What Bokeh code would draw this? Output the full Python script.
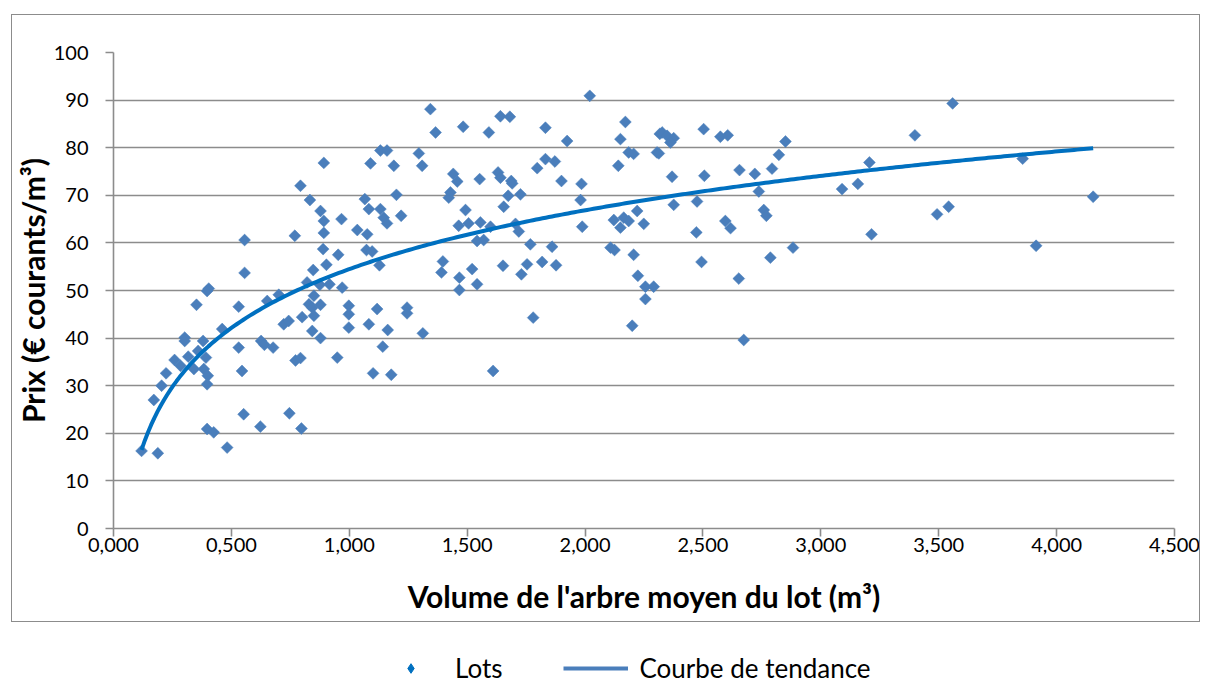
import numpy as np
from bokeh.plotting import figure
from bokeh.layouts import column
from bokeh.models import (ColumnDataSource, Range1d, FixedTicker, CustomJSTickFormatter,
                          Legend, LegendItem, InlineStyleSheet)
from bokeh.embed import file_html
from bokeh.resources import INLINE

# ---- data ----
lot_volume = [
    0.119, 0.188, 0.171, 0.204, 0.223, 0.259, 0.284, 0.302, 0.302, 0.317, 0.341, 0.359, 0.380, 0.392,
    0.383, 0.400, 0.397, 0.352, 0.397, 0.404, 0.556, 0.556, 0.531, 0.461, 0.531, 0.545, 0.552, 0.397,
    0.425, 0.482, 0.623, 0.746, 0.626, 0.640, 0.677, 0.652, 0.701, 0.722, 0.743, 0.772, 0.793, 0.797,
    0.800, 0.892, 0.793, 0.833, 0.769, 0.878, 0.892, 0.892, 0.967, 0.889, 0.953, 0.903, 0.847, 0.821,
    0.875, 0.916, 0.970, 0.850, 0.829, 0.878, 0.843, 0.850, 0.998, 0.998, 1.118, 1.245, 1.245, 1.083,
    0.998, 0.843, 0.878, 1.163, 1.312, 1.142, 0.949, 1.101, 1.178, 1.132, 1.160, 1.090, 1.189, 1.295,
    1.309, 1.366, 1.344, 1.200, 1.066, 1.083, 1.132, 1.146, 1.160, 1.220, 1.034, 1.076, 1.073, 1.097,
    1.128, 1.397, 1.391, 1.441, 1.458, 1.429, 1.422, 1.493, 1.464, 1.506, 1.542, 1.467, 1.467, 1.521,
    1.542, 1.553, 2.020, 1.641, 1.681, 1.483, 1.592, 1.832, 1.924, 2.171, 2.150, 2.185, 2.206, 2.305,
    2.317, 2.141, 1.797, 1.832, 1.872, 1.631, 1.641, 1.687, 1.691, 1.900, 1.985, 1.981, 1.726, 1.674,
    1.655, 1.556, 1.599, 1.705, 1.719, 1.570, 1.988, 2.122, 2.164, 2.185, 2.150, 2.221, 2.249, 1.768,
    1.860, 2.108, 2.125, 2.206, 1.652, 1.754, 1.818, 1.877, 1.730, 2.224, 1.780, 1.610, 2.256, 2.291,
    2.256, 2.200, 2.327, 2.348, 2.376, 2.362, 2.313, 2.503, 2.574, 2.605, 2.850, 2.822, 2.793, 2.720,
    2.655, 2.737, 2.369, 2.506, 2.376, 2.475, 2.595, 2.617, 2.758, 2.769, 2.472, 3.090, 2.882, 2.786,
    2.494, 2.652, 2.673, 3.559, 3.399, 3.206, 3.157, 3.215, 3.493, 3.542, 3.856, 3.913, 4.155,
]
lot_price = [
    16.3, 15.8, 27.0, 30.0, 32.6, 35.4, 34.2, 40.1, 39.4, 36.1, 33.5, 37.3, 39.4, 35.9,
    33.5, 32.1, 30.3, 47.0, 49.9, 50.4, 53.7, 60.6, 46.6, 41.9, 38.0, 33.1, 24.0, 20.9,
    20.2, 17.0, 21.4, 24.2, 39.4, 38.6, 38.0, 47.8, 49.1, 42.9, 43.6, 35.3, 35.8, 21.0,
    44.4, 76.8, 72.0, 69.0, 61.5, 66.7, 64.6, 62.1, 65.0, 58.7, 57.5, 55.4, 54.3, 51.7,
    51.2, 51.3, 50.6, 48.9, 47.1, 47.0, 46.4, 44.7, 46.8, 45.0, 46.1, 46.4, 45.2, 42.9,
    42.2, 41.5, 40.0, 41.7, 41.0, 38.2, 35.9, 32.6, 32.3, 79.4, 79.4, 76.7, 76.2, 78.8,
    76.2, 83.2, 88.1, 70.1, 69.2, 67.1, 67.1, 65.3, 64.1, 65.7, 62.7, 61.8, 58.5, 58.2,
    55.3, 56.1, 53.8, 74.5, 72.9, 70.6, 69.5, 66.9, 63.6, 64.1, 60.4, 52.7, 50.1, 54.5,
    51.3, 73.4, 90.9, 86.6, 86.5, 84.4, 83.2, 84.2, 81.4, 85.4, 81.8, 79.0, 78.7, 79.0,
    82.9, 76.2, 75.7, 77.6, 77.1, 74.8, 73.7, 73.0, 72.5, 73.0, 72.4, 69.0, 70.2, 69.9,
    67.6, 64.3, 63.4, 64.0, 62.4, 60.6, 63.4, 64.8, 65.3, 64.6, 63.2, 66.7, 64.0, 59.7,
    59.2, 59.0, 58.5, 57.5, 55.2, 55.5, 56.0, 55.3, 53.4, 53.1, 44.3, 33.1, 50.8, 50.8,
    48.2, 42.6, 83.2, 82.5, 82.0, 81.1, 78.8, 83.9, 82.3, 82.6, 81.3, 78.5, 75.6, 74.5,
    75.3, 70.8, 73.9, 74.1, 68.0, 68.7, 64.6, 63.1, 66.9, 65.7, 62.2, 71.3, 59.0, 56.9,
    56.0, 52.5, 39.6, 89.3, 82.6, 76.9, 72.4, 61.8, 66.0, 67.6, 77.7, 59.4, 69.7,
]
x_ticks = [0.0, 0.5, 1.0, 1.5, 2.0, 2.5, 3.0, 3.5, 4.0, 4.5]
y_ticks = [0, 10, 20, 30, 40, 50, 60, 70, 80, 90, 100]

series_name = "Lots"
trend_name = "Courbe de tendance"
x_title = "Volume de l'arbre moyen du lot (m³)"
y_title = "Prix (€ courants/m³)"

# ---- logarithmic trend (least squares on ln x), as in a spreadsheet trend line ----
vx = np.array(lot_volume)
vy = np.array(lot_price)
a, b = np.polyfit(np.log(vx), vy, 1)
trend_x = np.linspace(vx.min(), vx.max(), 300)
trend_y = a * np.log(trend_x) + b

FONT = "Lato"
GRID = "#8c8c8c"
PT_COLOR = "#4A7EBB"
LINE_COLOR = "#0070C0"

# outer chart frame (drawn by CSS on the chart figure; the legend figure sits below it)
frame_css = InlineStyleSheet(css="""
:host { position: relative; }
:host::after {
  content: ""; position: absolute; left: 11px; top: 14px; width: 1189px; height: 608px;
  border: 1.3px solid #8c8c8c; box-sizing: border-box; pointer-events: none; z-index: 10;
}
""")

p = figure(frame_width=1061, frame_height=476, output_backend="svg", toolbar_location=None,
           x_range=Range1d(0, 4.5), y_range=Range1d(0, 100),
           min_border_left=113, min_border_right=27, min_border_top=52,
           min_border_bottom=94, stylesheets=[frame_css])
p.background_fill_color = "white"
p.border_fill_color = "white"
p.outline_line_color = None

p.xgrid.visible = False
p.ygrid.grid_line_color = GRID
p.ygrid.grid_line_width = 1.6
p.ygrid.ticker = FixedTicker(ticks=y_ticks)

for ax in (p.xaxis[0], p.yaxis[0]):
    ax.axis_line_color = GRID
    ax.axis_line_width = 1.6
    ax.major_tick_line_color = GRID
    ax.major_tick_line_width = 1.6
    ax.major_tick_out = 8
    ax.major_tick_in = 0
    ax.minor_tick_line_color = None
    ax.major_label_text_font = FONT
    ax.major_label_text_font_size = "20px"
    ax.major_label_text_color = "black"
    ax.axis_label_text_font = FONT
    ax.axis_label_text_font_size = "30px"
    ax.axis_label_text_font_style = "bold"
    ax.axis_label_text_color = "black"

p.xaxis.ticker = FixedTicker(ticks=x_ticks)
p.xaxis.formatter = CustomJSTickFormatter(code="return tick.toFixed(3).replace('.', ',');")
p.xaxis.major_label_standoff = 1
p.xaxis.axis_label = x_title
p.xaxis.axis_label_standoff = 23

p.yaxis.ticker = FixedTicker(ticks=y_ticks)
p.yaxis.major_label_standoff = 17
p.yaxis.axis_label = y_title
p.yaxis.axis_label_standoff = 0

src = ColumnDataSource(dict(x=lot_volume, y=lot_price))
trend_src = ColumnDataSource(dict(x=trend_x, y=trend_y))
p.scatter("x", "y", source=src, marker="square", angle=np.pi / 4, size=8.4,
          fill_color=PT_COLOR, line_color=PT_COLOR, line_width=0.5)
p.line("x", "y", source=trend_src, line_color=LINE_COLOR, line_width=4)

# ---- legend strip under the framed chart ----
lg = figure(width=1209, height=64, output_backend="svg", toolbar_location=None,
            x_range=Range1d(100, 101), y_range=Range1d(1000, 1001),
            x_axis_type=None, y_axis_type=None, min_border=0)
lg.outline_line_color = None
lg.grid.visible = False
lg.background_fill_color = "white"
lg.border_fill_color = "white"
pts_l = lg.scatter("x", "y", source=src, marker="diamond", size=17,
                   fill_color=LINE_COLOR, line_color=LINE_COLOR)
tl_l = lg.line("x", "y", source=trend_src, line_color=PT_COLOR, line_width=4)

legend = Legend(items=[LegendItem(label=series_name, renderers=[pts_l]),
                       LegendItem(label=trend_name, renderers=[tl_l])],
                orientation="horizontal", location=(265, 2))
legend.label_text_font = FONT
legend.label_text_font_size = "26px"
legend.label_text_color = "black"
legend.glyph_width = 65
legend.glyph_height = 24
legend.label_standoff = 12
legend.spacing = 60
legend.padding = 0
legend.margin = 0
legend.border_line_color = None
legend.background_fill_alpha = 0
lg.add_layout(legend)

layout = column(p, lg, spacing=0)
open("out.html", "w").write(file_html(layout, INLINE))
